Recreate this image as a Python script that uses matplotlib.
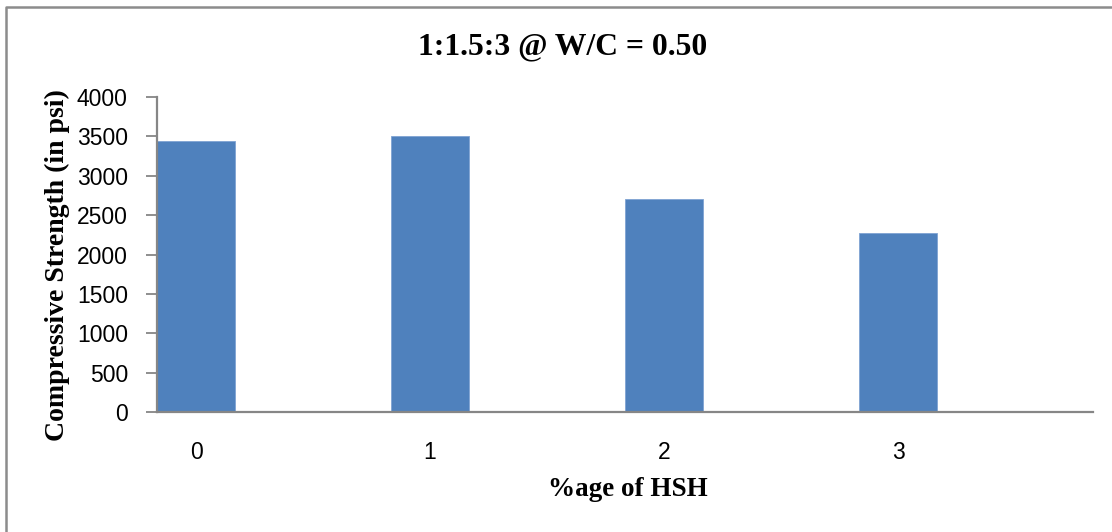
import matplotlib as mpl
mpl.use('Agg')
import matplotlib.pyplot as plt
from matplotlib.lines import Line2D

# compressive strength vs HSH content
hsh_pct = [0, 1, 2, 3]
strength_psi = [3440, 3505, 2705, 2275]
y_ticks = [0, 500, 1000, 1500, 2000, 2500, 3000, 3500, 4000]

bar_col = '#4F81BD'
axis_col = '#868686'
serif = 'Liberation Serif'
sans = 'Liberation Sans'

fig = plt.figure(figsize=(11.12, 5.32), dpi=100)
ax = fig.add_axes([0.1412, 0.225, 0.8417, 0.5932])

ax.bar(hsh_pct, strength_psi, width=1 / 3., color=bar_col,
       edgecolor='#7FA3D3', linewidth=0.6)
ax.set_xlim(-1 / 6., 4 - 1 / 6.)
ax.set_ylim(0, 4000)
ax.set_yticks(y_ticks)
ax.set_xticks(hsh_pct)
ax.set_xticklabels([str(v) for v in hsh_pct], fontsize=16.5, family=sans)
ax.set_yticklabels([str(v) for v in y_ticks], fontsize=16.5, family=sans)
ax.tick_params(axis='x', length=0, pad=21)
ax.tick_params(axis='y', length=8, width=1.3, color=axis_col, pad=13)

for side in ['top', 'right']:
    ax.spines[side].set_visible(False)
for side in ['left', 'bottom']:
    ax.spines[side].set_color(axis_col)
    ax.spines[side].set_linewidth(1.6)

fig.text(563 / 1112., 1 - 47 / 532., '1:1.5:3 @ W/C = 0.50', ha='center',
         va='center', fontsize=22.8, fontweight='bold', family=serif)
fig.text(57 / 1112., 1 - 265 / 532., 'Compressive Strength (in psi)',
         rotation=90, ha='center', va='center', fontsize=20,
         fontweight='bold', family=serif)
fig.text(628 / 1112., 1 - 490 / 532., '%age of HSH', ha='center',
         va='center', fontsize=19.5, fontweight='bold', family=serif)

# chart area border: only the top and left edges are inside the image
bx, by = 5.5 / 1112., 1 - 6.5 / 532.
fig.lines.append(Line2D([bx, bx, 1.0], [0.0, by, by],
                        transform=fig.transFigure, color='#8C8C8C',
                        linewidth=1.8))

plt.savefig('out.png', dpi=100)
